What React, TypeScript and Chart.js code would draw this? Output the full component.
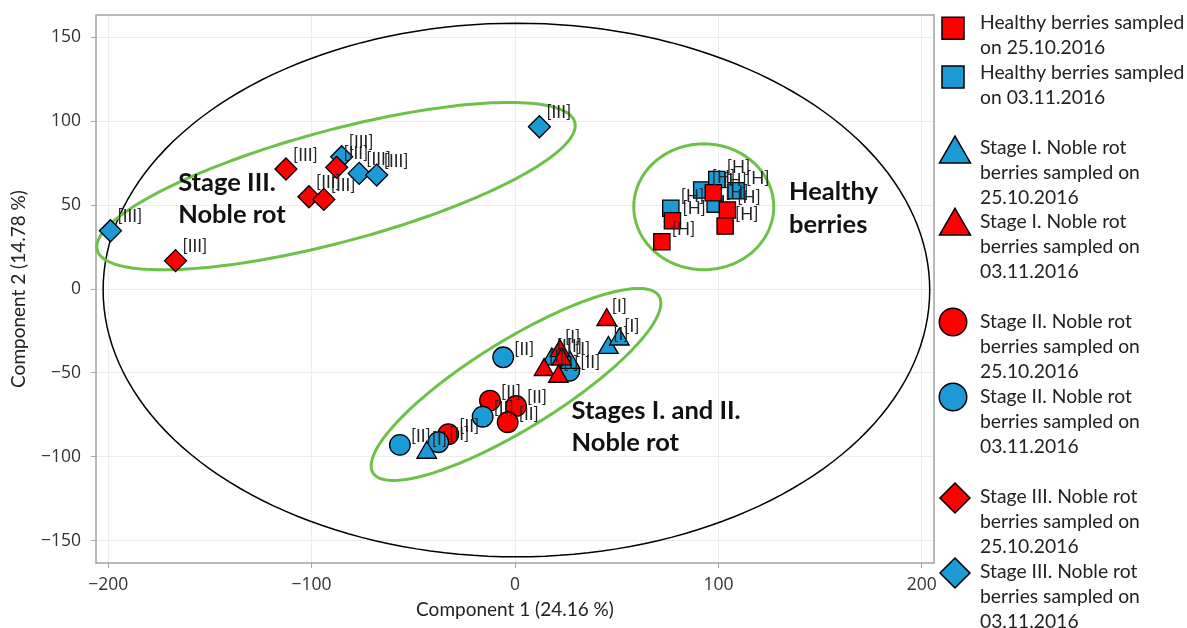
import React, { useEffect, useRef } from 'react';
import { Chart, registerables } from 'chart.js';

Chart.register(...registerables);

// ---------- data (Component 1 / Component 2 scores) ----------
const healthy2510X = [72.2, 77.4, 97.5, 104.4, 103.3];
const healthy2510Y = [28.2, 40.7, 57.4, 47.1, 37.5];

const healthy0311X = [76.6, 91.8, 99.2, 98.4, 108.7];
const healthy0311Y = [48.1, 59.0, 65.3, 50.6, 58.5];

const stageI2510X = [45.9, 51.3, 18.1, 27.1, -43.4];
const stageI2510Y = [-35.0, -30.0, -41.9, -43.9, -97.5];

const stageI0311X = [45.1, 22.1, 14.3, 21.3, 23.0];
const stageI0311Y = [-18.4, -36.9, -48.2, -52.2, -41.9];

const stageII2510X = [-12.3, 0.5, -3.6, -32.8];
const stageII2510Y = [-66.5, -69.7, -79.4, -86.5];

const stageII0311X = [-5.8, 26.7, -15.9, -37.7, -56.6];
const stageII0311Y = [-40.7, -48.7, -76.1, -91.3, -92.9];

const stageIII2510X = [-112.6, -87.7, -101.3, -94.0, -166.9];
const stageIII2510Y = [71.5, 72.5, 55.0, 53.4, 16.9];

const stageIII0311X = [-198.9, -85.2, -76.6, -68.0, 12.0];
const stageIII0311Y = [34.7, 78.8, 68.9, 67.9, 96.7];

const xTicks = [-200, -100, 0, 100, 200];
const yTicks = [-150, -100, -50, 0, 50, 100, 150];

const legendTexts = [
  ['Healthy berries sampled', 'on 25.10.2016'],
  ['Healthy berries sampled', 'on 03.11.2016'],
  ['Stage I. Noble rot', 'berries sampled on', '25.10.2016'],
  ['Stage I. Noble rot', 'berries sampled on', '03.11.2016'],
  ['Stage II. Noble rot', 'berries sampled on', '25.10.2016'],
  ['Stage II. Noble rot', 'berries sampled on', '03.11.2016'],
  ['Stage III. Noble rot', 'berries sampled on', '25.10.2016'],
  ['Stage III. Noble rot', 'berries sampled on', '03.11.2016'],
];

const pointTags = ['[H]', '[H]', '[I]', '[I]', '[II]', '[II]', '[III]', '[III]'];

// ---------- styling ----------
const RED = '#FF0000';
const BLUE = '#1C9AD6';
const GREEN = '#6DC049';
const FONT = 'Lato, "Open Sans", sans-serif';

const zip = (xs: number[], ys: number[]) => xs.map((x, i) => ({ x, y: ys[i] }));

type Shape = 'rect' | 'triangle' | 'circle' | 'rectRot';

const series: { x: number[]; y: number[]; color: string; shape: Shape; r: number; order: number }[] = [
  { x: healthy2510X, y: healthy2510Y, color: RED, shape: 'rect', r: 11.5, order: 1 },
  { x: healthy0311X, y: healthy0311Y, color: BLUE, shape: 'rect', r: 11.5, order: 2 },
  { x: stageI2510X, y: stageI2510Y, color: BLUE, shape: 'triangle', r: 11.3, order: 4 },
  { x: stageI0311X, y: stageI0311Y, color: RED, shape: 'triangle', r: 11.3, order: 3 },
  { x: stageII2510X, y: stageII2510Y, color: RED, shape: 'circle', r: 10.3, order: 6 },
  { x: stageII0311X, y: stageII0311Y, color: BLUE, shape: 'circle', r: 10.3, order: 5 },
  { x: stageIII2510X, y: stageIII2510Y, color: RED, shape: 'rectRot', r: 11, order: 7 },
  { x: stageIII0311X, y: stageIII0311Y, color: BLUE, shape: 'rectRot', r: 11, order: 8 },
];

// label offsets (px) per marker shape: [dx to text left, dy of text middle]
const tagOffset: Record<Shape, [number, number]> = {
  rect: [10, -12],
  triangle: [5, -13],
  circle: [11, -8],
  rectRot: [7, -14],
};

// ellipses (centre and conjugate semi-axes, data units)
const ellipses = [
  { c: [0.7, -0.6], u: [203.2, 0], v: [0, 159], color: '#000000', width: 1.5 },
  { c: [92.8, 49.0], u: [34.4, 0], v: [0, 37.5], color: GREEN, width: 3 },
  { c: [-88.0, 61.3], u: [117.4, 38.1], v: [7.1, -32.2], color: GREEN, width: 3 },
  { c: [0.5, -56.9], u: [70.3, 52.7], v: [11.4, -22.3], color: GREEN, width: 3 },
];

// group annotations (data coords of first-line baseline-left)
const notes = [
  { lines: ['Stage III.', 'Noble rot'], x: -165.6, y: 58.5 },
  { lines: ['Healthy', 'berries'], x: 134.7, y: 53.0 },
  { lines: ['Stages I. and II.', 'Noble rot'], x: 27.8, y: -77.2 },
];

const legendMarkerY = [28.3, 77, 149.5, 221.7, 322, 397, 498, 573];
const legendTextY = [23, 73, 148, 222, 322, 397, 497, 572];

function drawShape(ctx: CanvasRenderingContext2D, shape: Shape, cx: number, cy: number, size: number, fill: string) {
  ctx.beginPath();
  if (shape === 'rect') {
    ctx.rect(cx - size / 2, cy - size / 2, size, size);
  } else if (shape === 'circle') {
    ctx.arc(cx, cy, size / 2, 0, Math.PI * 2);
  } else if (shape === 'rectRot') {
    ctx.moveTo(cx, cy - size / 2);
    ctx.lineTo(cx + size / 2, cy);
    ctx.lineTo(cx, cy + size / 2);
    ctx.lineTo(cx - size / 2, cy);
    ctx.closePath();
  } else {
    const h = (size * Math.sqrt(3)) / 2;
    ctx.moveTo(cx, cy - h / 2);
    ctx.lineTo(cx + size / 2, cy + h / 2);
    ctx.lineTo(cx - size / 2, cy + h / 2);
    ctx.closePath();
  }
  ctx.fillStyle = fill;
  ctx.fill();
  ctx.lineWidth = 1.5;
  ctx.strokeStyle = '#000';
  ctx.stroke();
}

const legendSizes: Record<Shape, number> = { rect: 22, triangle: 31, circle: 27.5, rectRot: 30 };
const legendMarkerX: Record<Shape, number> = { rect: 953, triangle: 955, circle: 953, rectRot: 955 };

const overlayPlugin = {
  id: 'overlay',
  beforeDatasetsDraw(chart: any) {
    const { ctx, chartArea: a, scales } = chart;
    const xs = scales.x;
    const ys = scales.y;
    ctx.save();
    ctx.strokeStyle = '#a3a3a3';
    ctx.lineWidth = 1.5;
    ctx.strokeRect(a.left, a.top, a.right - a.left, a.bottom - a.top);

    for (const e of ellipses) {
      ctx.beginPath();
      const n = 180;
      for (let i = 0; i <= n; i++) {
        const t = (i / n) * Math.PI * 2;
        const dx = e.c[0] + e.u[0] * Math.cos(t) + e.v[0] * Math.sin(t);
        const dy = e.c[1] + e.u[1] * Math.cos(t) + e.v[1] * Math.sin(t);
        const px = xs.getPixelForValue(dx);
        const py = ys.getPixelForValue(dy);
        if (i === 0) ctx.moveTo(px, py);
        else ctx.lineTo(px, py);
      }
      ctx.closePath();
      ctx.strokeStyle = e.color;
      ctx.lineWidth = e.width;
      ctx.stroke();
    }

    ctx.fillStyle = '#111';
    ctx.font = `bold 25.5px ${FONT}`;
    ctx.textBaseline = 'alphabetic';
    ctx.textAlign = 'left';
    for (const note of notes) {
      const px = xs.getPixelForValue(note.x);
      const py = ys.getPixelForValue(note.y);
      note.lines.forEach((l, i) => ctx.fillText(l, px, py + i * 32.5));
    }
    ctx.restore();
  },
  afterDatasetsDraw(chart: any) {
    const { ctx } = chart;
    ctx.save();
    ctx.font = `17px ${FONT}`;
    ctx.fillStyle = '#222';
    ctx.textBaseline = 'middle';
    ctx.textAlign = 'left';
    series.forEach((s, i) => {
      const meta = chart.getDatasetMeta(i);
      const [ox, oy] = tagOffset[s.shape];
      meta.data.forEach((el: any) => {
        ctx.fillText(pointTags[i], el.x + ox, el.y + oy);
      });
    });
    ctx.restore();
  },
  afterDraw(chart: any) {
    const { ctx } = chart;
    ctx.save();
    series.forEach((s, i) => {
      drawShape(ctx, s.shape, legendMarkerX[s.shape], legendMarkerY[i], legendSizes[s.shape], s.color);
      ctx.font = `19.3px ${FONT}`;
      ctx.fillStyle = '#222';
      ctx.textBaseline = 'middle';
      ctx.textAlign = 'left';
      legendTexts[i].forEach((l, j) => ctx.fillText(l, 980, legendTextY[i] + j * 25));
    });
    ctx.restore();
  },
};

const minusFmt = (v: number | string) => String(v).replace('-', '\u2212');

export default function App() {
  const ref = useRef<HTMLCanvasElement | null>(null);

  useEffect(() => {
    if (!ref.current) return;
    const chart = new Chart(ref.current, {
      type: 'scatter',
      data: {
        datasets: series.map((s, i) => ({
          label: legendTexts[i].join(' '),
          data: zip(s.x, s.y),
          pointStyle: s.shape,
          pointRadius: s.r,
          pointHoverRadius: s.r,
          backgroundColor: s.color,
          borderColor: '#000',
          borderWidth: 1.3,
          order: s.order,
        })),
      },
      options: {
        animation: false,
        responsive: false,
        events: [],
        layout: { padding: { top: 15, right: 253, left: 0, bottom: 0 } },
        plugins: { legend: { display: false }, tooltip: { enabled: false } },
        scales: {
          x: {
            type: 'linear',
            min: -206,
            max: 206,
            afterBuildTicks: (s: any) => {
              s.ticks = xTicks.map((v) => ({ value: v }));
            },
            afterFit: (s: any) => {
              s.height = 65;
              s.paddingLeft = 0;
              s.paddingRight = 0;
            },
            grid: { color: '#ececec', lineWidth: 1, tickLength: 5, tickColor: '#a3a3a3', drawTicks: true },
            border: { display: false },
            ticks: {
              padding: 7,
              color: '#333',
              font: { family: '"Open Sans", sans-serif', size: 17.5 },
              callback: (v: any) => minusFmt(v),
              maxRotation: 0,
            },
            title: {
              display: true,
              text: 'Component 1 (24.16 %)',
              color: '#222',
              font: { family: FONT, size: 19 },
              padding: { top: 0, bottom: 7 },
            },
          },
          y: {
            type: 'linear',
            min: -163.3,
            max: 163.3,
            afterBuildTicks: (s: any) => {
              s.ticks = yTicks.map((v) => ({ value: v }));
            },
            afterFit: (s: any) => {
              s.width = 96;
              s.paddingTop = 0;
              s.paddingBottom = 0;
            },
            grid: { color: '#ececec', lineWidth: 1, tickLength: 5, tickColor: '#a3a3a3', drawTicks: true },
            border: { display: false },
            ticks: {
              padding: 10,
              color: '#333',
              font: { family: '"Open Sans", sans-serif', size: 17.5 },
              callback: (v: any) => minusFmt(v),
            },
            title: {
              display: true,
              text: 'Component 2 (14.78 %)',
              color: '#222',
              font: { family: FONT, size: 19 },
              padding: { top: 7, bottom: 0 },
            },
          },
        },
      },
      plugins: [overlayPlugin],
    } as any);
    return () => chart.destroy();
  }, []);

  return (
    <div style={{ position: 'absolute', left: 0, top: 0, width: 1187, height: 628, background: '#fff' }}>
      <canvas ref={ref} width={1187} height={628} style={{ width: 1187, height: 628, display: 'block' }} />
    </div>
  );
}
